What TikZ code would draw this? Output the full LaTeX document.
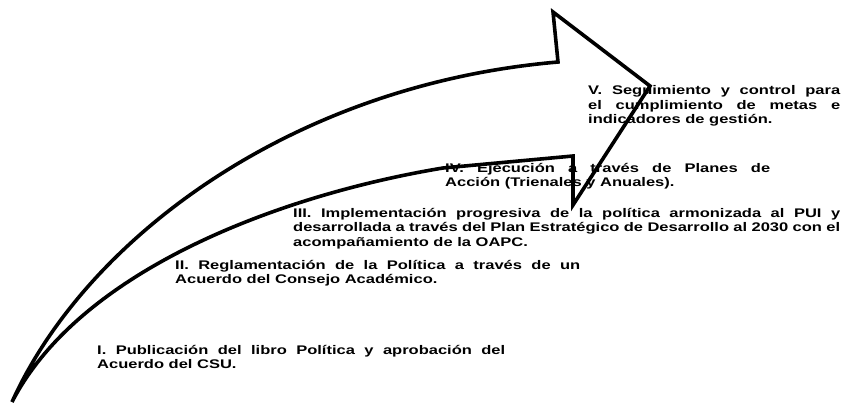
\documentclass[tikz,border=0pt]{standalone}
\usepackage{fontspec}
\newfontfamily\lblfont[FakeStretch=1.32]{Liberation Sans}
\begin{document}
\begin{tikzpicture}[x=1pt,y=-1pt,
  lbl/.style={anchor=base west,inner sep=0pt,align=justify,
    font=\lblfont\bfseries\fontsize{12.5}{14.5}\selectfont},
  arrowline/.style={line width=3.6pt,line join=miter,miter limit=30}]
\useasboundingbox (0,0) rectangle (842,406);
% arrow outline
\coordinate (tail) at (12,402);
\coordinate (oshoulder) at (558,62);
\coordinate (top) at (553,12);
\coordinate (tip) at (650,86);
\coordinate (bottom) at (573,205);
\coordinate (ishoulder) at (573,156);
\coordinate (iend) at (443,168);
\draw[arrowline] (tail) .. controls (85,240) and (290,85) .. (oshoulder)
  -- (top) -- (tip) -- (bottom) -- (ishoulder) -- (iend)
  .. controls (280,195) and (80,270) .. cycle;
% labels
\node[lbl,text width=252pt] (v5) at (588,95)
  {V. Seguimiento y control para\linebreak el cumplimiento de metas e\linebreak indicadores de gestión.};
\node[lbl,text width=325pt] (v4) at (445,172)
  {IV. Ejecución a través de Planes de\linebreak Acción (Trienales y Anuales).};
\node[lbl,text width=547pt] (v3) at (293,217)
  {III. Implementación progresiva de la política armonizada al PUI y\linebreak desarrollada a través del Plan Estratégico de Desarrollo al 2030 con el\linebreak acompañamiento de la OAPC.};
\node[lbl,text width=405pt] (v2) at (175,269)
  {II. Reglamentación de la Política a través de un\linebreak Acuerdo del Consejo Académico.};
\node[lbl,text width=408pt] (v1) at (97,354)
  {I. Publicación del libro Política y aprobación del\linebreak Acuerdo del CSU.};
\end{tikzpicture}
\end{document}
